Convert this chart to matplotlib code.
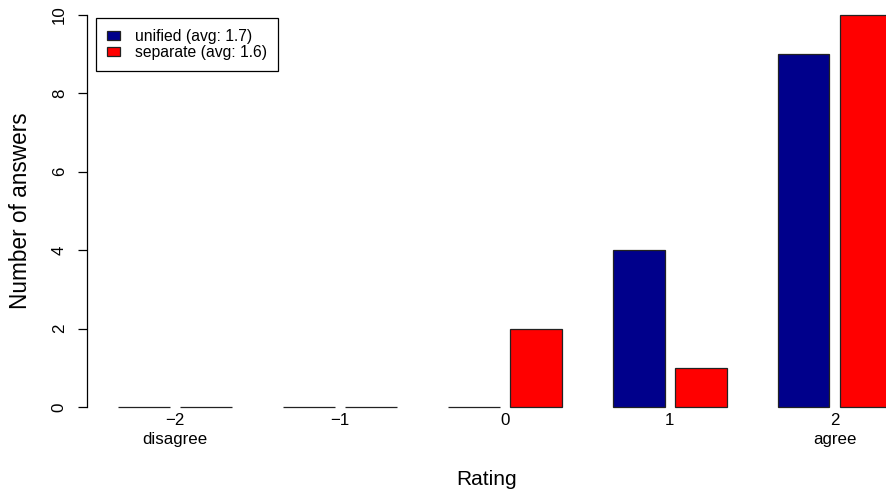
import matplotlib
matplotlib.use("Agg")
import matplotlib.pyplot as plt
import numpy as np

plt.rcParams['font.family'] = ['Liberation Sans', 'DejaVu Sans']

ratings = [-2, -1, 0, 1, 2]
rating_labels = ["\u22122\ndisagree", "\u22121", "0", "1", "2\nagree"]
unified = [0, 0, 0, 4, 9]
separate = [0, 0, 2, 1, 10]
series_names = ["unified (avg: 1.7)", "separate (avg: 1.6)"]
colors = ["#00008B", "#FF0000"]

W, H = 886, 493
fig = plt.figure(figsize=(W / 100, H / 100), dpi=100)
ax = fig.add_axes([87 / W, (H - 407) / H, (W - 87) / W, (407 - 15) / H])

x = np.array(ratings, dtype=float)
bw = 0.314
off = 0.188
ax.bar(x - off, unified, width=bw, color=colors[0], edgecolor="#222222",
       linewidth=0.9, label=series_names[0], clip_on=False)
ax.bar(x + off, separate, width=bw, color=colors[1], edgecolor="#222222",
       linewidth=0.9, label=series_names[1], clip_on=False)

ax.set_xlim(-2.5337, 2.3117)
ax.set_ylim(0, 10)

for s in ["top", "right", "bottom"]:
    ax.spines[s].set_visible(False)
ax.spines["left"].set_linewidth(0.9)
ax.spines["left"].set_bounds(0, 10)

ax.set_yticks([0, 2, 4, 6, 8, 10])
ax.set_yticklabels(["0", "2", "4", "6", "8", "10"], rotation=90, va="center")
ax.tick_params(axis="y", length=6.5, width=0.9, pad=8, labelsize=12.2)
ax.set_xticks(ratings)
ax.set_xticklabels(rating_labels, linespacing=1.4)
ax.tick_params(axis="x", length=0, pad=4, labelsize=12.2)

ax.set_ylabel("Number of answers", fontsize=16.3, labelpad=14)
ax.set_xlabel("Rating", fontsize=15, labelpad=16)

leg = ax.legend(loc="upper left", bbox_to_anchor=(9 / (W - 87), 1 - 3 / (407 - 15)),
                borderaxespad=0, fancybox=False, framealpha=1,
                edgecolor="black", fontsize=11.3, handlelength=0.8,
                handleheight=0.55, handletextpad=1.0, labelspacing=0.08,
                borderpad=0.7)
leg.get_frame().set_linewidth(0.9)

fig.savefig("out.png", dpi=100)
